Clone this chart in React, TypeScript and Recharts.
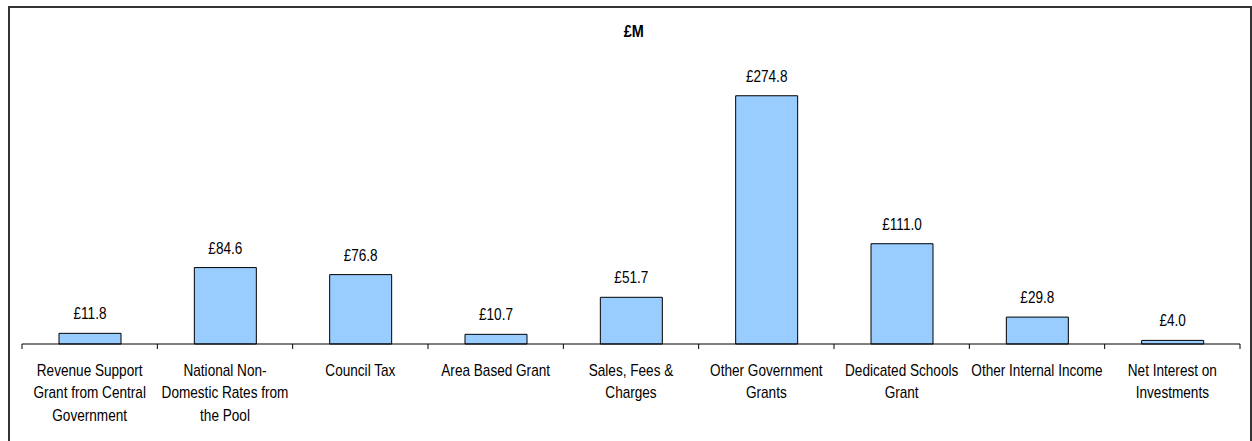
import { Bar, BarChart, LabelList, XAxis, YAxis } from 'recharts'

const CATEGORIES = [
  'Revenue Support Grant from Central Government',
  'National Non-Domestic Rates from the Pool',
  'Council Tax',
  'Area Based Grant',
  'Sales, Fees & Charges',
  'Other Government Grants',
  'Dedicated Schools Grant',
  'Other Internal Income',
  'Net Interest on Investments',
]

const TICK_LINES = [
  ['Revenue Support', 'Grant from Central', 'Government'],
  ['National Non-', 'Domestic Rates from', 'the Pool'],
  ['Council Tax'],
  ['Area Based Grant'],
  ['Sales, Fees &', 'Charges'],
  ['Other Government', 'Grants'],
  ['Dedicated Schools', 'Grant'],
  ['Other Internal Income'],
  ['Net Interest on', 'Investments'],
]

const VALUES = [11.8, 84.6, 76.8, 10.7, 51.7, 274.8, 111.0, 29.8, 4.0]

const W = 1252
const H = 441
const LEFT = 22
const RIGHT = 12
const BAND = (W - LEFT - RIGHT) / CATEGORIES.length
const FONT = '"Liberation Sans", Arial, sans-serif'
const SQUEEZE = 0.85

const data = CATEGORIES.map((name, i) => ({ name, value: VALUES[i] }))

function CategoryTick({ x, y, index }: { x?: number; y?: number; index?: number }) {
  const i = index ?? 0
  const cx = x ?? 0
  const top = (y ?? 0) - 8
  const lines = TICK_LINES[i] ?? []
  const last = i === CATEGORIES.length - 1
  return (
    <g>
      <line x1={cx - BAND / 2} x2={cx - BAND / 2} y1={top} y2={top + 5} stroke="#000" />
      {last && <line x1={cx + BAND / 2} x2={cx + BAND / 2} y1={top} y2={top + 5} stroke="#000" />}
      <text
        transform={`translate(${cx},${top + 32}) scale(${SQUEEZE},1)`}
        textAnchor="middle"
        fontSize={16}
        fontFamily={FONT}
        fill="#000"
      >
        {lines.map((l, k) => (
          <tspan key={k} x={0} dy={k === 0 ? 0 : 22.5}>
            {l}
          </tspan>
        ))}
      </text>
    </g>
  )
}

function ValueLabel(props: any) {
  const { x, y, width, value } = props
  const cx = Number(x) + Number(width) / 2
  return (
    <text
      transform={`translate(${cx},${Number(y) - 14}) scale(${SQUEEZE},1)`}
      textAnchor="middle"
      fontSize={16}
      fontFamily={FONT}
      fill="#000"
    >
      {`£${Number(value).toFixed(1)}`}
    </text>
  )
}

export default function App() {
  return (
    <div style={{ position: 'absolute', left: 0, top: 0, width: W, height: H, background: '#fff', overflow: 'hidden' }}>
      <div
        style={{
          position: 'absolute',
          left: 8,
          top: 6,
          width: 1240,
          height: 445,
          border: '2px solid #333',
        }}
      />
      <div
        style={{
          position: 'absolute',
          left: 0,
          width: W,
          top: 22,
          textAlign: 'center',
          fontFamily: FONT,
          fontWeight: 'bold',
          fontSize: 17,
          paddingLeft: 8,
        }}
      >
        <span style={{ display: 'inline-block', transform: `scaleX(${SQUEEZE})` }}>£M</span>
      </div>
      <div style={{ position: 'absolute', left: 0, top: 0 }}>
        <BarChart
          width={W}
          height={H}
          data={data}
          margin={{ top: 73, right: RIGHT, left: LEFT, bottom: 17 }}
          barSize={62}
        >
          <XAxis
            dataKey="name"
            interval={0}
            height={80}
            tickLine={false}
            axisLine={{ stroke: '#000' }}
            tick={<CategoryTick />}
          />
          <YAxis hide domain={[0, 300]} />
          <Bar dataKey="value" fill="#99CCFF" stroke="#000" strokeWidth={1} isAnimationActive={false}>
            <LabelList dataKey="value" content={<ValueLabel />} />
          </Bar>
        </BarChart>
      </div>
    </div>
  )
}
